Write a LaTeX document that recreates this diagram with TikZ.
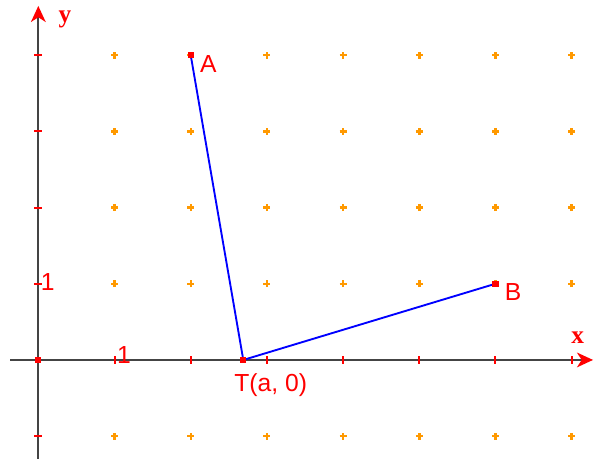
\documentclass[tikz,border=0pt]{standalone}
\usepackage{fontspec}
\setmainfont{Liberation Sans}
\newfontfamily\axfont{Liberation Serif}
\usetikzlibrary{arrows.meta}
\definecolor{axgray}{HTML}{444444}
\definecolor{dotorange}{HTML}{FF9900}
\tikzset{
  axisline/.style={draw=axgray,line width=1.7pt},
  axtip/.style={-{Stealth[red,length=12pt,width=11pt,inset=3.5pt]}},
  seg/.style={draw=blue,line width=1.4pt},
  lbl/.style={text=red,font=\fontsize{18.5}{18.5}\selectfont,inner sep=0pt},
  axlbl/.style={text=red,font=\axfont\bfseries\fontsize{19}{19}\selectfont,inner sep=0pt},
  pt/.style={fill=red,draw=none,minimum size=4.6pt,inner sep=0pt,rectangle},
}
\begin{document}
\begin{tikzpicture}[x=57.15pt,y=57.15pt]
\useasboundingbox (-0.503,-1.299) rectangle (7.424,4.724);
% grid dots
\foreach \i in {1,...,7}{
  \foreach \j in {-1,1,2,3,4}{
    \draw[dotorange,line width=1.8pt] (\i,\j) ++(-2.6pt,0) -- ++(5.2pt,0) (\i,\j) ++(0,-2.6pt) -- ++(0,5.2pt);
  }
}
% axes
\coordinate (xs) at (-0.371,0);
\coordinate (xe) at (7.28,0);
\coordinate (ys) at (0,-1.299);
\coordinate (ye) at (0,4.646);
\draw[axisline,axtip] (xs) -- (xe);
\draw[axisline,axtip] (ys) -- (ye);
% ticks
\foreach \i in {1,...,7}{\draw[red,line width=1.5pt] (\i,0) ++(0,-3pt) -- ++(0,6pt);}
\foreach \j in {-1,1,2,3,4}{\draw[red,line width=1.5pt] (0,\j) ++(-3pt,0) -- ++(6pt,0);}
\node[pt] (O) at (0,0) {};
% labels
\node[axlbl] (ylab) at (0.35,4.47) {y};
\node[axlbl] (xlab) at (7.08,0.29) {x};
\node[lbl,anchor=west] (one-y) at (0.03,1.02) {1};
\node[lbl,anchor=west] (one-x) at (1.03,0.07) {1};
% points
\node[pt] (A) at (2,4) {};
\node[pt] (B) at (6,1) {};
\node[pt] (T) at (2.69,0) {};
\draw[seg] (A.center) -- (T.center) -- (B.center);
\node[pt] at (A) {};
\node[pt] at (B) {};
\node[pt] at (T) {};
\node[lbl] (Alab) at (2.23,3.88) {A};
\node[lbl] (Blab) at (6.23,0.89) {B};
\node[lbl] (Tlab) at (3.05,-0.33) {T(a, 0)};
\end{tikzpicture}
\end{document}
